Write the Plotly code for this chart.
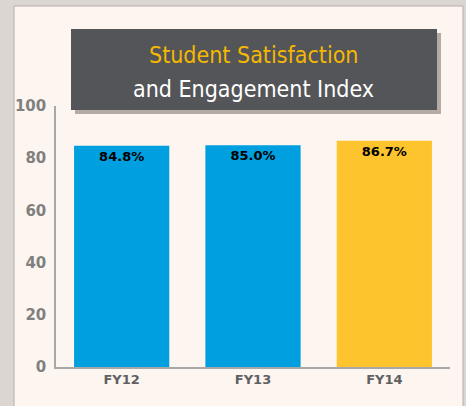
import plotly.graph_objects as go

categories = ["FY12", "FY13", "FY14"]
values = [84.8, 85.0, 86.7]
bar_colors = ["#009fdf", "#009fdf", "#fec42d"]
y_ticks = [0, 20, 40, 60, 80, 100]

W, H = 466, 406
L, R, T, B = 56, 16, 106, 39
pw, ph = W - L - R, H - T - B

def px(x):
    return (x - L) / pw

def py(y):
    return (H - B - y) / ph

fig = go.Figure(go.Bar(
    x=categories, y=values,
    marker=dict(color=bar_colors, line=dict(width=0)),
    text=[f"{v:.1f}%" for v in values],
    textposition="inside", insidetextanchor="end",
    textfont=dict(family="DejaVu Sans", size=13, color="#000000", weight="bold"),
    textangle=0,
    width=0.725,
    hoverinfo="skip",
))

shapes = [
    dict(type="rect", xref="paper", yref="paper", x0=px(14), x1=px(463), y0=py(420), y1=py(6),
         fillcolor="#fdf5f0", line=dict(color="#b5aca7", width=1), layer="below"),
    dict(type="rect", xref="paper", yref="paper", x0=px(75), x1=px(441), y0=py(114), y1=py(33),
         fillcolor="rgba(90,80,75,0.45)", line=dict(width=0), layer="above"),
    dict(type="rect", xref="paper", yref="paper", x0=px(71), x1=px(437), y0=py(110), y1=py(29),
         fillcolor="#545558", line=dict(width=0), layer="above"),
]

tfont = "Liberation Sans Narrow, DejaVu Sans Condensed, Roboto"
annotations = [
    dict(text="Student Satisfaction", xref="paper", yref="paper", x=px(254), y=py(55),
         showarrow=False, xanchor="center", yanchor="middle",
         font=dict(family=tfont, size=23, color="#f5b800")),
    dict(text="and Engagement Index", xref="paper", yref="paper", x=px(254), y=py(89),
         showarrow=False, xanchor="center", yanchor="middle",
         font=dict(family=tfont, size=23, color="#ffffff")),
]

fig.update_layout(
    width=W, height=H,
    margin=dict(l=L, r=R, t=T, b=B, autoexpand=False),
    paper_bgcolor="#dcd6d2", plot_bgcolor="rgba(0,0,0,0)",
    shapes=shapes, annotations=annotations,
    showlegend=False,
    xaxis=dict(showline=True, linecolor="#a8a8a8", linewidth=1.5, showgrid=False, ticks="",
               tickfont=dict(family="DejaVu Sans", size=13, color="#606060", weight="bold"),
               range=[-0.5, 2.5]),
    yaxis=dict(range=[0, 100], tickvals=y_ticks, showline=True, linecolor="#a8a8a8", linewidth=1.5,
               showgrid=False, zeroline=False, ticks="", ticklabelstandoff=5,
               tickfont=dict(family="DejaVu Sans", size=15, color="#808080", weight="bold")),
)

fig.write_html("out.html", config={"displayModeBar": False},
               post_script="document.body.style.margin='0';")
